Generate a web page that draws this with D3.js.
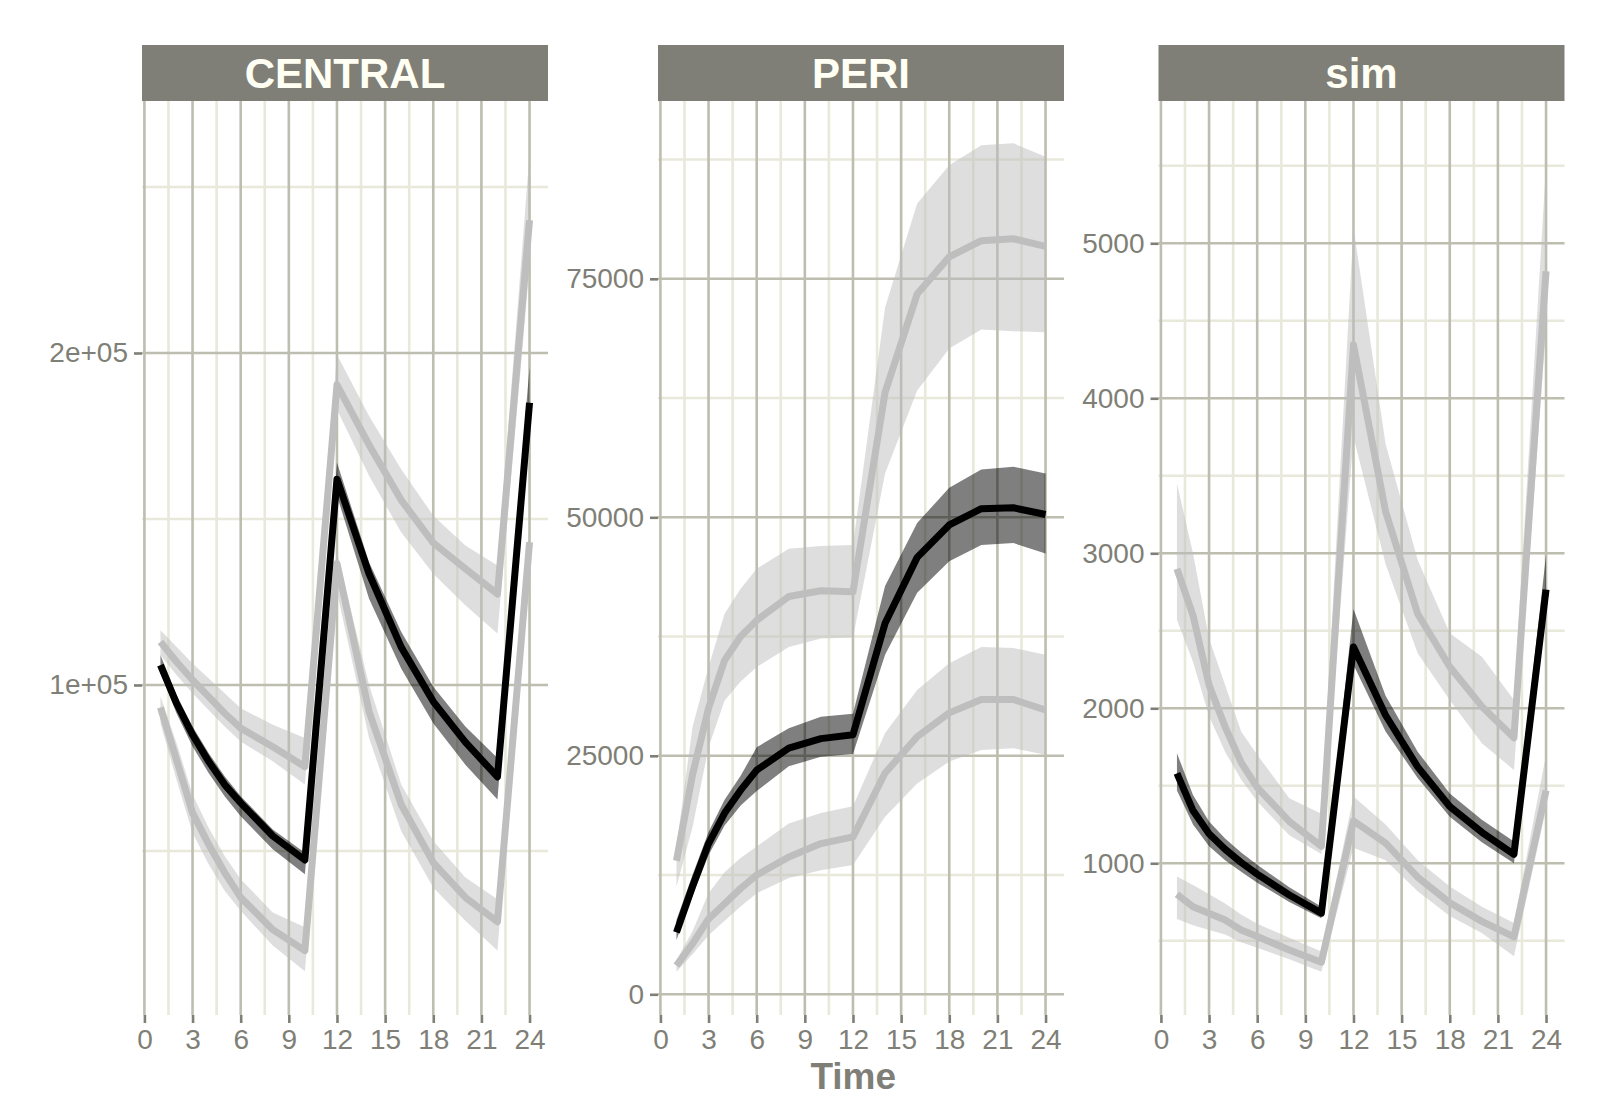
<!DOCTYPE html>
<html>
<head>
<meta charset="utf-8">
<script src="https://cdn.jsdelivr.net/npm/d3@7"></script>
<style>
  html, body { margin: 0; padding: 0; background: #ffffff; }
  svg { display: block; }
</style>
</head>
<body>
<svg id="chart" width="1621" height="1097"></svg>
<script>
// Sampling times (hours)
const timePoints = [1, 2, 3, 4, 5, 6, 8, 10, 12, 14, 16, 18, 20, 22, 24];
const xTickValues = [0, 3, 6, 9, 12, 15, 18, 21, 24];
const panelNames = ["CENTRAL", "PERI", "sim"];

// CENTRAL: median (black) with its interval, upper and lower percentiles (grey) with intervals
const centralMid   = [106000, 94500, 85000, 77000, 70000, 64500, 54500, 47300, 162000, 133500, 111400, 95000, 82800, 72300, 185000];
const centralMidLo = [103500, 91500, 81500, 73500, 66500, 60500, 50500, 43000, 157000, 126000, 105000, 88500, 76000, 65500, 182000];
const centralMidHi = [109000, 97000, 87500, 79500, 72500, 66500, 56500, 49500, 167000, 137000, 116000, 99500, 87500, 78000, 196000];
const centralHigh   = [113000, 107000, 101500, 96500, 91500, 87000, 81400, 75400, 190400, 172300, 155700, 142800, 135000, 127400, 240000];
const centralHighLo = [109000, 103000, 97500, 92500, 87500, 83000, 77000, 70000, 183000, 163000, 146000, 133500, 124000, 115500, 226000];
const centralHighHi = [116500, 111500, 106500, 102000, 97500, 93000, 88000, 84000, 199500, 181000, 165000, 151000, 142000, 136000, 260000];
const centralLow   = [93200, 77500, 61500, 52000, 43500, 36000, 26300, 20000, 136600, 92000, 64000, 46500, 36000, 28700, 143000];
const centralLowLo = [88500, 71500, 55500, 46000, 38000, 32000, 21500, 13800, 128000, 84000, 56000, 39000, 29000, 20000, 137000];
const centralLowHi = [96500, 82500, 67000, 57000, 48500, 41500, 31500, 27000, 140000, 100000, 70000, 53000, 42000, 35500, 149000];

// PERI
const periMid   = [6500, 11300, 15800, 19000, 21400, 23500, 25800, 26800, 27200, 38900, 45800, 49200, 50900, 51000, 50300];
const periMidLo = [5700, 10300, 14600, 17700, 19800, 21300, 23900, 24900, 25200, 35600, 42100, 45400, 47100, 47300, 46200];
const periMidHi = [7800, 12500, 17000, 20400, 22900, 25900, 27900, 29100, 29400, 42800, 49400, 53100, 55000, 55300, 54600];
const periHigh   = [14000, 23000, 30000, 35000, 37500, 39200, 41700, 42300, 42200, 63100, 73400, 77300, 79000, 79200, 78400];
const periHighLo = [11300, 17500, 25900, 30800, 32800, 34300, 36400, 37300, 37400, 54600, 63300, 67700, 69700, 69500, 69400];
const periHighHi = [15500, 28000, 34300, 39900, 42500, 44600, 46700, 47000, 47100, 72000, 82900, 86900, 89000, 89200, 87800];
const periLow   = [3000, 5300, 7900, 9500, 11100, 12500, 14400, 15800, 16500, 23200, 27000, 29500, 30900, 30900, 29800];
const periLowLo = [2370, 4200, 6200, 7700, 9200, 10600, 12200, 13000, 13550, 18600, 22100, 24400, 25600, 25800, 25100];
const periLowHi = [3600, 6600, 10600, 12800, 14300, 15500, 17900, 19000, 19700, 27400, 31900, 34700, 36400, 36300, 35600];

// sim
const simMid   = [1580, 1340, 1190, 1090, 1005, 930, 795, 678, 2395, 1955, 1622, 1366, 1200, 1058, 2765];
const simMidLo = [1470, 1250, 1110, 1020, 945, 875, 750, 645, 2280, 1850, 1550, 1300, 1135, 1000, 2690];
const simMidHi = [1710, 1440, 1270, 1160, 1070, 990, 845, 720, 2640, 2080, 1720, 1450, 1280, 1140, 2990];
const simHigh   = [2900, 2600, 2150, 1880, 1650, 1490, 1270, 1110, 4345, 3270, 2610, 2268, 2012, 1810, 4820];
const simHighLo = [2570, 2300, 1950, 1720, 1540, 1400, 1180, 1060, 3750, 2930, 2355, 2054, 1774, 1602, 4450];
const simHighHi = [3450, 3000, 2450, 2150, 1850, 1700, 1420, 1320, 5100, 3705, 2957, 2484, 2333, 2054, 5500];
const simLow   = [800, 720, 677, 634, 570, 527, 441, 362, 1273, 1130, 910, 745, 625, 525, 1470];
const simLowLo = [640, 600, 570, 540, 490, 455, 380, 300, 1100, 1020, 820, 660, 550, 400, 1350];
const simLowHi = [914, 860, 800, 740, 670, 610, 520, 430, 1430, 1250, 1020, 850, 720, 615, 1700];

// y-axis breaks and labels per panel
const centralTicks = [100000, 200000];
const centralTickLabels = ["1e+05", "2e+05"];
const periTicks = [0, 25000, 50000, 75000];
const periTickLabels = ["0", "25000", "50000", "75000"];
const simTicks = [1000, 2000, 3000, 4000, 5000];
const simTickLabels = ["1000", "2000", "3000", "4000", "5000"];

// ---- assemble panels ----
function series(mid, lo, hi) {
  return timePoints.map((t, i) => ({ t: t, v: mid[i], lo: lo[i], hi: hi[i] }));
}
const panels = [
  { name: panelNames[0], yDomain: [600, 275900], ticks: centralTicks, labels: centralTickLabels,
    low: series(centralLow, centralLowLo, centralLowHi),
    high: series(centralHigh, centralHighLo, centralHighHi),
    mid: series(centralMid, centralMidLo, centralMidHi) },
  { name: panelNames[1], yDomain: [-2170, 93640], ticks: periTicks, labels: periTickLabels,
    low: series(periLow, periLowLo, periLowHi),
    high: series(periHigh, periHighLo, periHighHi),
    mid: series(periMid, periMidLo, periMidHi) },
  { name: panelNames[2], yDomain: [21, 5918], ticks: simTicks, labels: simTickLabels,
    low: series(simLow, simLowLo, simLowHi),
    high: series(simHigh, simHighLo, simHighHi),
    mid: series(simMid, simMidLo, simMidHi) }
];

// ---- layout ----
const panelLefts = [142, 658, 1158.5];
const panelWidth = 406;
const panelTop = 101, panelBottom = 1015;
const stripTop = 45;
const xDomain = [-0.15, 25.15];

const colMajor = "#bdbdb0";
const colMinor = "#e8e8db";
const colText = "#7f7f77";
const colStrip = "#7f7f77";
const fontFamily = "'Liberation Sans', Arial, Helvetica, sans-serif";
const tickFont = "28px";
const lineWidth = 7;

const svg = d3.select("#chart");

// midpoints between breaks, extended one step each side
function minorBreaks(major, domain) {
  const step = major.length > 1 ? major[1] - major[0] : 1;
  const out = [];
  const start = major[0] - step;
  for (let b = start; b <= major[major.length - 1] + step; b += step) {
    const m = b + step / 2;
    if (m >= domain[0] && m <= domain[1]) out.push(m);
  }
  return out;
}

panels.forEach((p, k) => {
  const left = panelLefts[k];
  const x = d3.scaleLinear().domain(xDomain).range([left, left + panelWidth]);
  const y = d3.scaleLinear().domain(p.yDomain).range([panelBottom, panelTop]);
  const g = svg.append("g");

  const xMinor = minorBreaks(xTickValues, xDomain);
  const yMinor = minorBreaks(p.ticks, p.yDomain);

  // minor grid
  g.selectAll(".xminor").data(xMinor).join("line")
    .attr("x1", d => x(d)).attr("x2", d => x(d))
    .attr("y1", panelTop).attr("y2", panelBottom)
    .attr("stroke", colMinor).attr("stroke-width", 2.6);
  g.selectAll(".yminor").data(yMinor).join("line")
    .attr("x1", left).attr("x2", left + panelWidth)
    .attr("y1", d => y(d)).attr("y2", d => y(d))
    .attr("stroke", colMinor).attr("stroke-width", 2.6);
  // major grid
  g.selectAll(".xmajor").data(xTickValues).join("line")
    .attr("x1", d => x(d)).attr("x2", d => x(d))
    .attr("y1", panelTop).attr("y2", panelBottom)
    .attr("stroke", colMajor).attr("stroke-width", 2.6);
  g.selectAll(".ymajor").data(p.ticks).join("line")
    .attr("x1", left).attr("x2", left + panelWidth)
    .attr("y1", d => y(d)).attr("y2", d => y(d))
    .attr("stroke", colMajor).attr("stroke-width", 2.6);

  // clip data to the panel
  const clipId = "clip" + k;
  svg.append("clipPath").attr("id", clipId).append("rect")
    .attr("x", left).attr("y", panelTop).attr("width", panelWidth).attr("height", panelBottom - panelTop);
  const dg = g.append("g").attr("clip-path", "url(#" + clipId + ")");

  const area = d3.area().x(d => x(d.t)).y0(d => y(d.lo)).y1(d => y(d.hi));
  const line = d3.line().x(d => x(d.t)).y(d => y(d.v));

  // intervals
  [p.low, p.high].forEach(s => {
    dg.append("path").datum(s).attr("d", area)
      .attr("fill", "#bdbdbd").attr("fill-opacity", 0.5);
  });
  dg.append("path").datum(p.mid).attr("d", area)
    .attr("fill", "#000000").attr("fill-opacity", 0.5);

  // percentile lines
  [p.low, p.high].forEach(s => {
    dg.append("path").datum(s).attr("d", line)
      .attr("fill", "none").attr("stroke", "#bebebe").attr("stroke-width", lineWidth)
      .attr("stroke-linejoin", "round").attr("stroke-linecap", "butt");
  });
  dg.append("path").datum(p.mid).attr("d", line)
    .attr("fill", "none").attr("stroke", "#000000").attr("stroke-width", lineWidth)
    .attr("stroke-linejoin", "round").attr("stroke-linecap", "butt");

  // x axis
  const xAxis = d3.axisBottom(x).tickValues(xTickValues).tickSize(8).tickPadding(6);
  const xa = g.append("g").attr("transform", `translate(0,${panelBottom})`).call(xAxis);
  xa.select(".domain").remove();
  xa.selectAll(".tick line").attr("stroke", colText).attr("stroke-width", 2.6);
  xa.selectAll(".tick text").attr("fill", colText)
    .style("font-family", fontFamily).style("font-size", tickFont);

  // y axis
  const yAxis = d3.axisLeft(y).tickValues(p.ticks).tickFormat((d, i) => p.labels[i]).tickSize(8).tickPadding(6);
  const ya = g.append("g").attr("transform", `translate(${left},0)`).call(yAxis);
  ya.select(".domain").remove();
  ya.selectAll(".tick line").attr("stroke", colText).attr("stroke-width", 2.6);
  ya.selectAll(".tick text").attr("fill", colText)
    .style("font-family", fontFamily).style("font-size", tickFont);

  // strip
  g.append("rect").attr("x", left).attr("y", stripTop)
    .attr("width", panelWidth).attr("height", panelTop - stripTop)
    .attr("fill", colStrip);
  g.append("text").attr("x", left + panelWidth / 2).attr("y", 87.5)
    .attr("text-anchor", "middle").attr("fill", "#fffff4")
    .style("font-family", fontFamily).style("font-weight", "bold").style("font-size", "42px")
    .text(p.name);
});

// x-axis title
svg.append("text")
  .attr("x", (panelLefts[0] + panelLefts[2] + panelWidth) / 2).attr("y", 1089)
  .attr("text-anchor", "middle").attr("fill", colText)
  .style("font-family", fontFamily).style("font-weight", "bold").style("font-size", "37px")
  .text("Time");
</script>
</body>
</html>
